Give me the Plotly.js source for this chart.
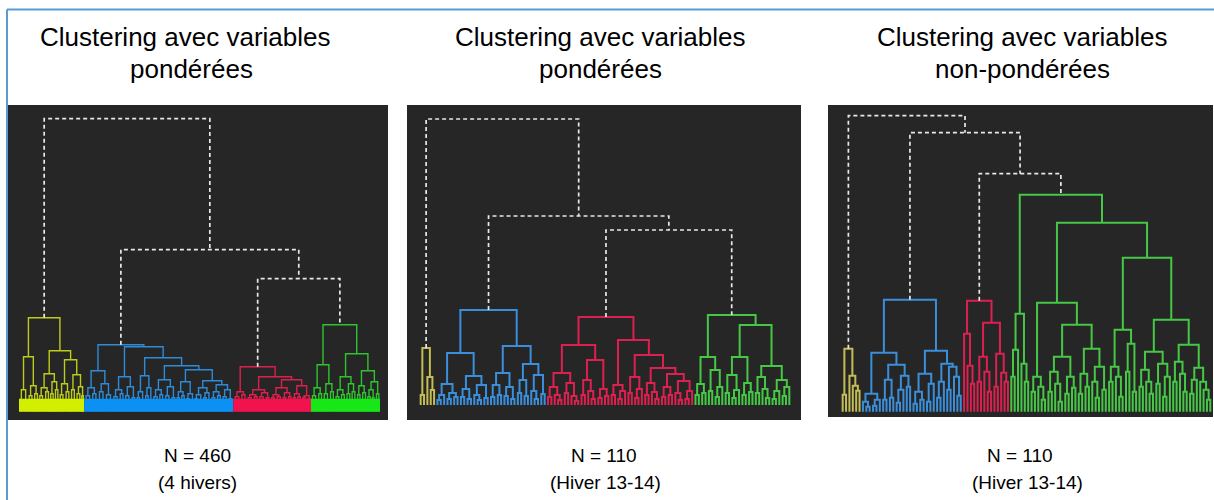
<!DOCTYPE html>
<html>
<head>
<meta charset="utf-8">
<script src="https://cdn.plot.ly/plotly-3.0.1.min.js"></script>
<style>html,body{margin:0;padding:0;background:#fff;}#chart{width:1214px;height:500px;}</style>
</head>
<body>
<div id="chart"></div>
<script>
// ---------- DATA (merge heights read from the picture; leaves = number of observations) ----------
// node = [mergeHeight, left, right]; leaf = leaf count (weight)
// Panel 1 : N = 460 (4 hivers), weighted variables
const p1Yellow = [94, [55,[22,6,5],[26,[16,4,3],[18,4,3]]], [61,[38,[24,[16,3,4],[20,4,3]],[30,[18,3,3],[22,3,3]]],[52,[28,[17,3,4],[20,4,3]],[37,[22,4,3],[25,[18,4,3],[16,2,2]]]]]];
const p1Blue = [67,
  [41,[24,[16,5,4],[18,4,4]],[28,[20,5,4],[17,5,5]]],
  [65,
    [35,[22,[15,4,4],[18,4,3]],[25,[16,4,4],[14,4,3]]],
    [54,
      [36,[20,[14,3,3],5],[24,[16,3,3],4]],
      [46,
        [32,[22,[15,4,4],[17,3,4]],[25,[16,4,4],[14,4,3]]],
        [42,
          [30,[20,[14,3,3],[16,3,3]],[18,[13,3,4],4]],
          [31,[24,[17,[13,3,3],5],[19,[14,3,3],4]],[27,[20,[14,4,3],[16,4,3]],[22,[15,4,4],[13,3,4]]]]]]]]];
const p1Red = [45, [20,[15,5,4],[17,4,4]], [35,[22,[17,[14,4,4],[15,4,3]],[19,[15,4,4],[14,4,3]]],[32,[24,[17,[14,4,3],[15,4,4]],[19,[14,3,4],[15,3,3]]],[26,[18,[14,3,3],[15,3,3]],[16,[14,3,4],[13,3,2]]]]]];
const p1Green = [87, [47,[24,[16,4,4],[18,4,3]],[28,[18,4,4],[20,4,3]]], [58,[35,[22,[15,4,3],[17,4,3]],[28,[18,4,3],[20,3,4]]],[41,[26,[17,3,3],[19,4,3]],[30,[22,[15,3,3],[14,2,3]],[18,3,3]]]]];
const p1Top = [293, 'Y', [162, 'B', [133, 'R', 'G']]];

// Panel 2 : N = 110 (Hiver 13-14), weighted variables
const p2Yellow = [57,[10,1,1],[28,1,[15,1,1]]];
const p2Blue = [95,
  [52,[21,[10,[5,1,1],1],[12,[6,1,1],[8,1,1]]],[29,[16,[8,1,1],[6,1,1]],[20,[10,1,[5,1,1]],[7,1,1]]]],
  [59,[32,[20,[8,1,1],[10,1,1]],[18,[9,1,1],[6,1,1]]],[41,[25,[12,1,1],[9,1,1]],[30,[14,1,[6,1,1]],[11,1,1]]]]];
const p2Red = [88,
  [60,[32,[18,[8,1,1],[10,1,[5,1,1]]],[22,[12,1,1],[9,1,[4,1,1]]]],[45,[25,[10,1,1],[14,1,[6,1,1]]],[16,[7,1,1],[9,1,1]]]],
  [65,[20,[10,1,1],[14,[6,1,1],1]],[50,[28,[12,1,1],[16,[7,1,1],1]],[37,[22,[10,1,1],[13,1,[6,1,1]]],[31,[18,[8,1,1],[10,1,1]],[24,[12,1,[5,1,1]],[14,[6,1,1],1]]]]]]];
const p2Green = [90,
  [48,[21,[10,1,1],[12,1,1]],[35,[14,1,1],[18,[8,1,1],1]]],
  [80,[48,[30,[12,1,1],[15,[7,1,1],1]],[22,[10,1,1],[13,1,1]]],[39,[28,[12,1,1],[16,1,[7,1,1]]],[25,[14,[6,1,1],1],[18,[9,1,1],1]]]]];
const p2Top = [286, 'Y', [189, 'B', [175, 'R', 'G']]];

// Panel 3 : N = 110 (Hiver 13-14), non-weighted variables
const p3Yellow = [63,[17,1,1],[36,1,[26,1,[21,1,1]]]];
const p3Blue = [112,
  [59,[18,[10,1,[5,1,1]],[12,[6,1,1],1]],[47,[32,[12,1,1],[14,1,1]],[36,[22,[9,1,1],1],[25,1,1]]]],
  [61,[38,[20,[8,1,1],[12,1,1]],[28,[10,1,1],1]],[48,[30,[14,1,1],1],[45,[22,1,1],[35,1,[16,1,1]]]]]];
const p3Red = [111,[78,1,[46,1,[28,1,1]]],[89,[55,[30,1,1],[40,1,[20,1,1]]],[58,[25,1,1],[39,1,[30,1,1]]]]];
const p3Green = [217,
  [98,[62,[35,1,1],1],[48,1,[30,1,1]]],
  [189,
    [109,[35,[20,1,1],[25,1,[12,1,1]]],[87,[55,[40,[20,1,1],[28,1,[10,1,1]]],[35,[18,1,1],[24,1,1]]],[63,[38,[18,1,1],[25,1,1]],[45,[30,1,[14,1,1]],[22,1,1]]]]],
    [154,[82,[45,[30,1,1],[35,1,[15,1,1]]],[68,[40,1,1],[20,1,1]]],[92,[60,[42,[25,1,1],[30,1,[18,1,1]]],[48,[28,1,1],[35,[15,1,1],1]]],[67,[50,[30,1,1],[38,1,[20,1,1]]],[44,[32,[18,1,1],1],[30,1,[22,1,[12,1,1]]]]]]]]];
const p3Top = [296, 'Y', [279, 'B', [238, 'R', 'G']]];

const titlesLine1 = ['Clustering avec variables', 'Clustering avec variables', 'Clustering avec variables'];
const titlesLine2 = ['pondérées', 'pondérées', 'non-pondérées'];
const nLabels = ['N = 460', 'N = 110', 'N = 110'];
const periodLabels = ['(4 hivers)', '(Hiver 13-14)', '(Hiver 13-14)'];

// ---------- STYLE / LAYOUT ----------
const W = 1214, H = 500;
const panels = [
  {clusters:{Y:p1Yellow,B:p1Blue,R:p1Red,G:p1Green}, top:p1Top,
   px:[7,388], py:[105,420], leafPx:[19,380], base:411.7, lw:1.4, band:13,
   colors:{Y:'#bccb1c',B:'#2d8bd8',R:'#dc204c',G:'#2fc42f'},
   bandColors:{Y:'#d2ef00',B:'#0b90f4',R:'#f2124d',G:'#17e617'},
   titleX:[185,192], botX:[197,197]},
  {clusters:{Y:p2Yellow,B:p2Blue,R:p2Red,G:p2Green}, top:p2Top,
   px:[407,801], py:[105,420], leafPx:[419,791], base:405, lw:2,
   colors:{Y:'#c4bd55',B:'#3b8fda',R:'#dc2150',G:'#46c846'},
   titleX:[600,600], botX:[604,605]},
  {clusters:{Y:p3Yellow,B:p3Blue,R:p3Red,G:p3Green}, top:p3Top,
   px:[828,1213], py:[105,417], leafPx:[841,1212], base:411.7, lw:2,
   colors:{Y:'#c4bd55',B:'#3b8fda',R:'#dc2150',G:'#46c846'},
   titleX:[1022,1022], botX:[1020,1027]}
];

function layoutTree(node, st, xs, ys){
  if (typeof node === 'number'){
    const lo = st.cum; st.cum += node;
    return {x: lo + node/2, h: 0, lo: lo, hi: st.cum};
  }
  const A = layoutTree(node[1], st, xs, ys);
  const B = layoutTree(node[2], st, xs, ys);
  xs.push(A.x, A.x, B.x, B.x, null);
  ys.push(A.h, node[0], node[0], B.h, null);
  return {x:(A.x+B.x)/2, h:node[0], lo:A.lo, hi:B.hi};
}

const traces = [];
const layout = {
  width: W, height: H, margin:{l:0,r:0,t:0,b:0},
  paper_bgcolor:'#ffffff', plot_bgcolor:'#262626', showlegend:false,
  font:{family:'Liberation Sans, Arial, sans-serif', color:'#000'},
  shapes:[], annotations:[]
};

panels.forEach((p, i) => {
  const sfx = i === 0 ? '' : String(i+1);
  const xa = 'x' + sfx, ya = 'y' + sfx;
  const st = {cum:0};
  const dashX = [], dashY = [];
  const bands = [];
  function topLayout(node){
    if (typeof node === 'string'){
      const xs = [], ys = [];
      const r = layoutTree(p.clusters[node], st, xs, ys);
      traces.push({type:'scatter', mode:'lines', x:xs, y:ys, xaxis:xa, yaxis:ya,
        line:{color:p.colors[node], width:p.lw}, hoverinfo:'skip'});
      if (p.band) bands.push({lo:r.lo, hi:r.hi, color:p.bandColors[node]});
      return r;
    }
    const A = topLayout(node[1]);
    const B = topLayout(node[2]);
    dashX.push(A.x, A.x, B.x, B.x, null);
    dashY.push(A.h, node[0], node[0], B.h, null);
    return {x:(A.x+B.x)/2, h:node[0], lo:A.lo, hi:B.hi};
  }
  topLayout(p.top);
  const total = st.cum;
  bands.forEach(b => {
    traces.push({type:'scatter', mode:'lines', x:[b.lo,b.hi,b.hi,b.lo,b.lo], y:[0,0,p.band,p.band,0],
      fill:'toself', fillcolor:b.color, line:{width:0, color:b.color}, xaxis:xa, yaxis:ya, hoverinfo:'skip'});
  });
  traces.push({type:'scatter', mode:'lines', x:dashX, y:dashY, xaxis:xa, yaxis:ya,
    line:{color:'#e8e8e8', width:1.7, dash:'4px,3px'}, hoverinfo:'skip'});

  const s = (p.leafPx[1]-p.leafPx[0]) / total;
  const xr = [-(p.leafPx[0]-p.px[0])/s, total + (p.px[1]-p.leafPx[1])/s];
  const yr = [p.base - p.py[1], p.base - p.py[0]];
  layout['xaxis'+sfx] = {domain:[p.px[0]/W, p.px[1]/W], range:xr, visible:false, fixedrange:true, anchor:ya};
  layout['yaxis'+sfx] = {domain:[1-p.py[1]/H, 1-p.py[0]/H], range:yr, visible:false, fixedrange:true, anchor:xa};

  const ann = (txt, x, y, size) => layout.annotations.push({text:txt, x:x/W, y:1-y/H, xref:'paper', yref:'paper',
    showarrow:false, xanchor:'center', yanchor:'middle', font:{size:size, color:'#000', family:'Liberation Sans, Arial, sans-serif'}});
  ann(titlesLine1[i], p.titleX[0], 37, 26);
  ann(titlesLine2[i], p.titleX[1], 69, 26);
  ann(nLabels[i], p.botX[0], 455, 19);
  ann(periodLabels[i], p.botX[1], 482, 19);
});

// blue frame (top and left edges)
layout.shapes.push({type:'line', xref:'paper', yref:'paper', x0:7/W, x1:1, y0:1-9.5/H, y1:1-9.5/H, line:{color:'#5b9bd5', width:2}});
layout.shapes.push({type:'line', xref:'paper', yref:'paper', x0:7/W, x1:7/W, y0:0, y1:1-9.5/H, line:{color:'#5b9bd5', width:2}});

Plotly.newPlot('chart', traces, layout, {displayModeBar:false, staticPlot:true});
</script>
</body>
</html>
